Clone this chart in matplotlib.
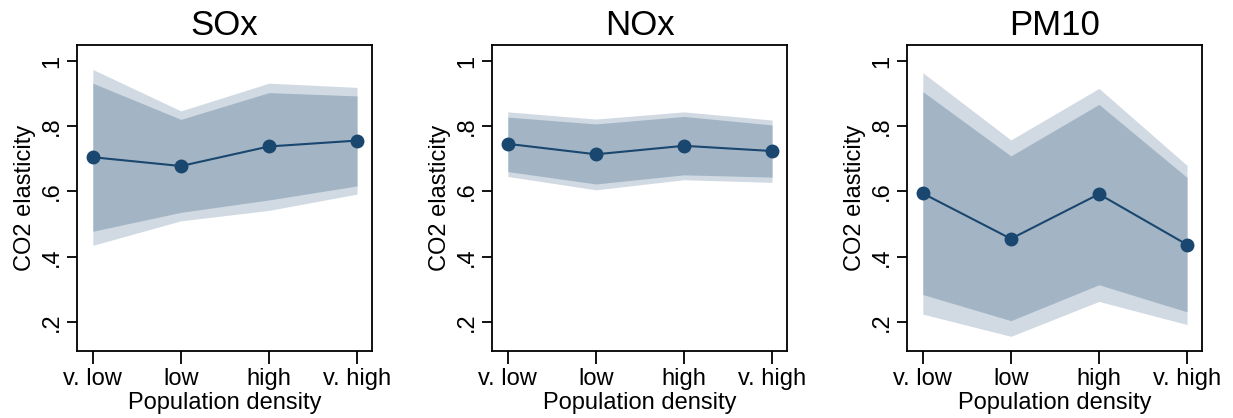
import numpy as np
import matplotlib.pyplot as plt

plt.rcParams.update({
    "font.family": ["Liberation Sans", "DejaVu Sans"],
    "font.size": 17,
})

categories = ["v. low", "low", "high", "v. high"]
titles = ["SOx", "NOx", "PM10"]

# point estimates
est = {
    "SOx":  [0.705, 0.678, 0.738, 0.756],
    "NOx":  [0.746, 0.714, 0.740, 0.724],
    "PM10": [0.594, 0.455, 0.592, 0.437],
}
# inner band (90%)
inner_lo = {
    "SOx":  [0.478, 0.536, 0.574, 0.617],
    "NOx":  [0.661, 0.623, 0.651, 0.644],
    "PM10": [0.284, 0.204, 0.314, 0.231],
}
inner_hi = {
    "SOx":  [0.932, 0.821, 0.903, 0.893],
    "NOx":  [0.828, 0.807, 0.830, 0.804],
    "PM10": [0.906, 0.709, 0.867, 0.643],
}
# outer band (95%)
outer_lo = {
    "SOx":  [0.435, 0.510, 0.542, 0.592],
    "NOx":  [0.646, 0.605, 0.636, 0.628],
    "PM10": [0.224, 0.156, 0.263, 0.192],
}
outer_hi = {
    "SOx":  [0.974, 0.847, 0.932, 0.919],
    "NOx":  [0.844, 0.822, 0.844, 0.819],
    "PM10": [0.964, 0.758, 0.916, 0.680],
}

navy = "#1a476f"
c_inner = "#a3b5c5"
c_outer = "#d1dae3"

fig = plt.figure(figsize=(12.33, 4.18), dpi=100)
lefts = [77, 492, 907]
x = np.arange(1, len(categories) + 1)

for left, name in zip(lefts, titles):
    ax = fig.add_axes([left / 1233, 67 / 418, 295 / 1233, 306 / 418])
    ax.fill_between(x, outer_lo[name], outer_hi[name], color=c_outer, lw=0)
    ax.fill_between(x, inner_lo[name], inner_hi[name], color=c_inner, lw=0)
    ax.plot(x, est[name], color=navy, lw=1.5, marker="o", ms=9)
    ax.set_xlim(0.82, 4.17)
    ax.set_ylim(0.111, 1.049)
    ax.set_xticks(x)
    ax.set_xticklabels(categories)
    ax.set_yticks([0.2, 0.4, 0.6, 0.8, 1.0])
    ax.set_yticklabels([".2", ".4", ".6", ".8", "1"], rotation=90, va="center")
    ax.tick_params(axis="x", length=9, width=1.3, pad=3)
    ax.tick_params(axis="y", length=7, width=1.3, pad=3)
    for s in ax.spines.values():
        s.set_linewidth(1.3)
    ax.set_xlabel("Population density", labelpad=2)
    ax.set_ylabel("CO2 elasticity", labelpad=4)
    ax.set_title(name, fontsize=25, pad=7)

fig.savefig("out.png", dpi=100)
